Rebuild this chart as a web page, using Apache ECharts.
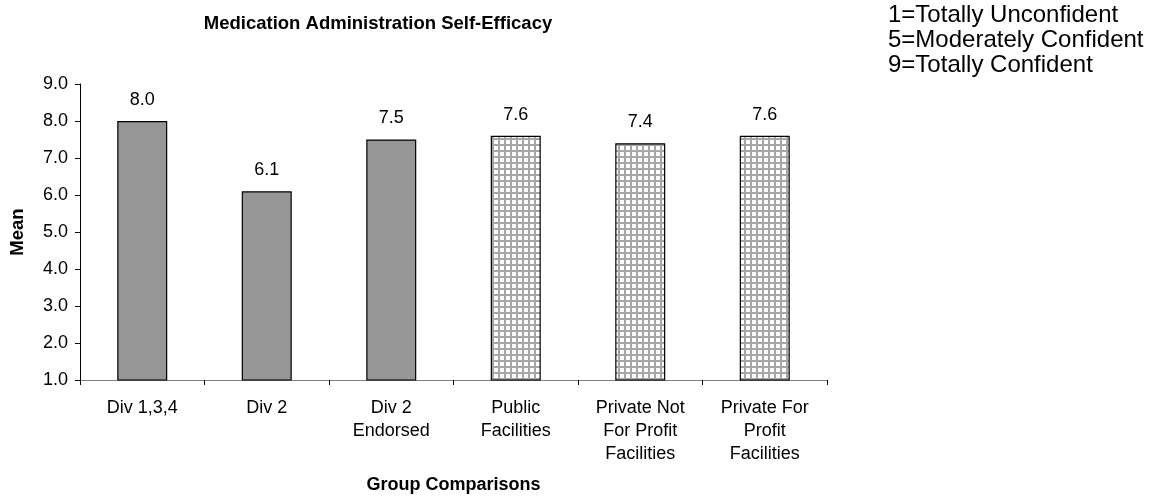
<!DOCTYPE html>
<html>
<head>
<meta charset="utf-8">
<script src="https://cdn.jsdelivr.net/npm/echarts@6/dist/echarts.min.js"></script>
<style>
html, body { margin: 0; padding: 0; background: #fff; }
#main { width: 1163px; height: 500px; }
</style>
</head>
<body>
<div id="main"></div>
<script>
var categories = ['Div 1,3,4', 'Div 2', 'Div 2\nEndorsed', 'Public\nFacilities', 'Private Not\nFor Profit\nFacilities', 'Private For\nProfit\nFacilities'];
var means = [8.0, 6.1, 7.5, 7.6, 7.4, 7.6];
var hatched = [false, false, false, true, true, true];
var scaleNotes = ['1=Totally Unconfident', '5=Moderately Confident', '9=Totally Confident'];

// grid hatch pattern for facility bars
function makeHatch() {
	var c = document.createElement('canvas');
	c.width = 6;
	c.height = 6;
	var ctx = c.getContext('2d');
	ctx.fillStyle = '#ffffff';
	ctx.fillRect(0, 0, 6, 6);
	ctx.fillStyle = '#a6a6a6';
	ctx.fillRect(0, 0, 2, 6);
	ctx.fillRect(0, 0, 6, 2);
	return c;
}
var hatch = makeHatch();

var barData = means.map(function (v, i) {
	return {
		value: v,
		itemStyle: {
			color: hatched[i] ? { image: hatch, repeat: 'repeat' } : '#969696'
		}
	};
});

var myChart = echarts.init(document.getElementById('main'));
var option = {
	backgroundColor: '#ffffff',
	animation: false,
	textStyle: { fontFamily: 'Liberation Sans, Arial, sans-serif' },
	title: {
		text: 'Medication Administration Self-Efficacy',
		left: 373,
		top: 9,
		textAlign: 'center',
		textStyle: { fontSize: 18.5, fontWeight: 'bold', color: '#000' }
	},
	graphic: [{
		type: 'text',
		left: 888,
		top: 3,
		style: {
			text: scaleNotes.join('\n'),
			font: '24px "Liberation Sans", Arial, sans-serif',
			lineHeight: 25,
			fill: '#000'
		}
	}],
	grid: { left: 80, right: 336, top: 84, bottom: 120 },
	xAxis: {
		type: 'category',
		data: categories,
		name: 'Group Comparisons',
		nameLocation: 'middle',
		nameGap: 96,
		nameTextStyle: { fontSize: 18, fontWeight: 'bold', color: '#000' },
		axisLine: { lineStyle: { color: '#808080', width: 1 } },
		axisTick: { show: true, alignWithLabel: false, length: 5, lineStyle: { color: '#000' } },
		axisLabel: { fontSize: 18, color: '#000', lineHeight: 23, margin: 17, interval: 0 }
	},
	yAxis: {
		type: 'value',
		min: 1,
		max: 9,
		interval: 1,
		name: 'Mean',
		nameLocation: 'middle',
		nameGap: 53,
		nameTextStyle: { fontSize: 18.5, fontWeight: 'bold', color: '#000' },
		axisLine: { show: true, lineStyle: { color: '#000', width: 1 } },
		axisTick: { show: true, inside: false, length: 5, lineStyle: { color: '#000' } },
		splitLine: { show: false },
		axisLabel: {
			fontSize: 18,
			color: '#000',
			margin: 12,
			formatter: function (v) { return v.toFixed(1); }
		}
	},
	series: [{
		name: 'Mean',
		type: 'bar',
		data: barData,
		barWidth: 50,
		itemStyle: { borderColor: '#000', borderWidth: 1.2 },
		label: {
			show: true,
			position: 'top',
			distance: 12,
			fontSize: 18,
			color: '#000',
			formatter: function (p) { return p.value.toFixed(1); }
		}
	}]
};
myChart.setOption(option);
</script>
</body>
</html>
